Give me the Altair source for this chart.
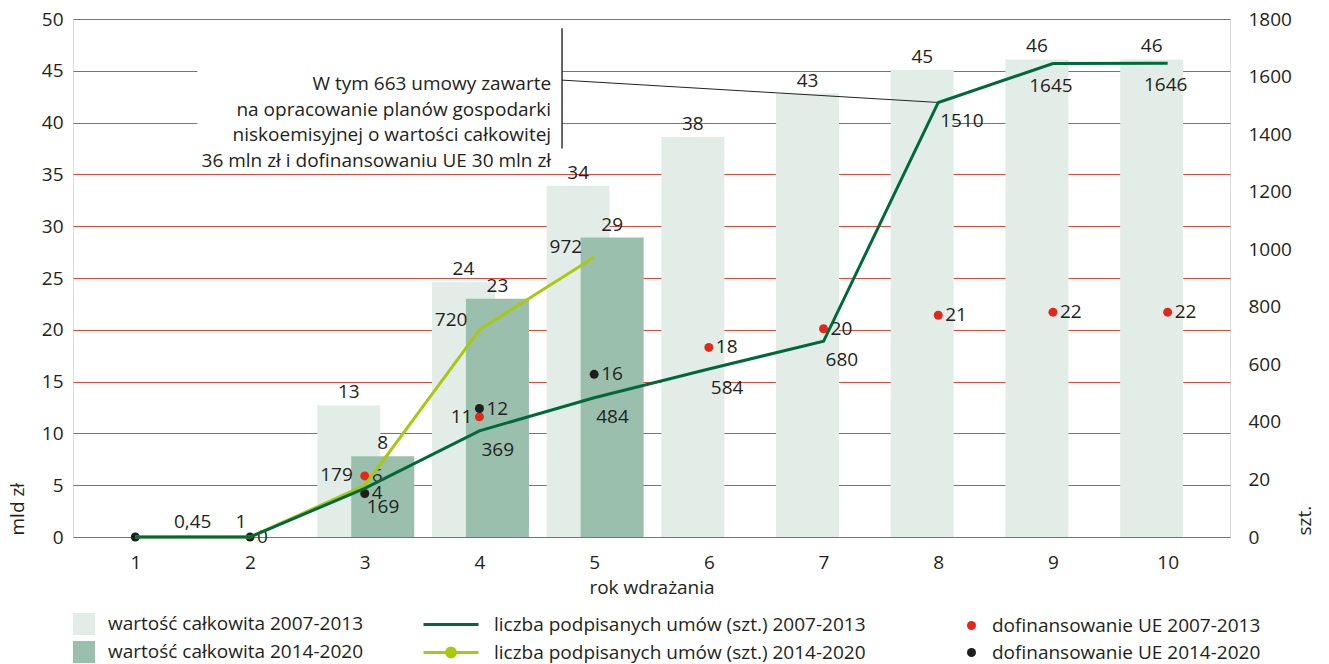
import altair as alt
import pandas as pd

FONT = "Open Sans"
FS = 19
TXT = "#231f20"

# ---------------- data ----------------
pos = [1, 2, 3, 4, 5, 6, 7, 8, 9, 10]

# total value 2007-2013 (mld zł)
val_0713_pos = [3, 4, 5, 6, 7, 8, 9, 10]
val_0713 = [12.7, 24.6, 33.9, 38.6, 42.8, 45.1, 46.1, 46.1]
val_0713_lab = ["13", "24", "34", "38", "43", "45", "46", "46"]

# total value 2014-2020 (mld zł)
val_1420_pos = [3, 4, 5]
val_1420 = [7.8, 23.0, 28.9]
val_1420_lab = ["8", "23", "29"]

# EU co-financing 2007-2013 (mld zł)
ue_0713_pos = [3, 4, 6, 7, 8, 9, 10]
ue_0713 = [5.9, 11.6, 18.3, 20.1, 21.4, 21.7, 21.7]
ue_0713_lab = ["6", "11", "18", "20", "21", "22", "22"]

# EU co-financing 2014-2020 (mld zł)
ue_1420_pos = [1, 2, 3, 4, 5]
ue_1420 = [0, 0, 4.2, 12.4, 15.7]
ue_1420_lab = ["", "0", "4", "12", "16"]

# number of signed contracts (szt.)
umowy_0713 = [0, 0, 169, 369, 484, 584, 680, 1510, 1645, 1646]
umowy_1420_pos = [1, 2, 3, 4, 5]
umowy_1420 = [0, 0, 179, 720, 972]
umowy_1420_lab = ["", "", "179", "720", "972"]

# small extra labels near the start
misc_pos = [1.5, 1.92]
misc_val = [0, 0]
misc_lab = ["0,45", "1"]

S_BAR = ["wartość całkowita 2007-2013", "wartość całkowita 2014-2020"]
S_LINE = ["liczba podpisanych umów (szt.) 2007-2013", "liczba podpisanych umów (szt.) 2014-2020"]
S_DOT = ["dofinansowanie UE 2007-2013", "dofinansowanie UE 2014-2020"]

C_LIGHT, C_DARK = "#e3ede8", "#9bbfad"
C_LINE1, C_LINE2 = "#00693a", "#a9c80f"
C_RED, C_BLACK = "#e3281b", "#1e1e1e"
C_GRID = "#ea4636"

# annotation
note_text = ("W tym 663 umowy zawarte\nna opracowanie planów gospodarki\n"
             "niskoemisyjnej o wartości całkowitej\n36 mln zł i dofinansowaniu UE 30 mln zł")
note_box = {"x": 1.54, "x2": 4.72, "y": 37.6, "y2": 48.6}
note_vline = {"x": 4.72, "y": 37.5, "y2": 49.1}
note_conn = {"x": [4.72, 8], "y": [44.1, 1510 / 1800 * 50]}
note_anchor = {"x": 4.625, "y": 43.7}

# ---------------- frames ----------------
df_l = pd.DataFrame({"pos": val_0713_pos, "v": val_0713, "lab": val_0713_lab, "s": S_BAR[0]})
df_d = pd.DataFrame({"pos": val_1420_pos, "v": val_1420, "lab": val_1420_lab, "s": S_BAR[1]})
df_r = pd.DataFrame({"pos": ue_0713_pos, "v": ue_0713, "lab": ue_0713_lab, "s": S_DOT[0]})
df_k = pd.DataFrame({"pos": ue_1420_pos, "v": ue_1420, "lab": ue_1420_lab, "s": S_DOT[1]})
df_dots = pd.concat([df_r, df_k])
df_u1 = pd.DataFrame({"pos": pos, "v": umowy_0713, "lab": [str(v) if v else "" for v in umowy_0713], "s": S_LINE[0]})
df_u2 = pd.DataFrame({"pos": umowy_1420_pos, "v": umowy_1420, "lab": umowy_1420_lab, "s": S_LINE[1]})
df_misc = pd.DataFrame({"pos": misc_pos, "v": misc_val, "lab": misc_lab})

xsc = alt.Scale(domain=[0.5, 10.5], nice=False, zero=False)
ysc_l = alt.Scale(domain=[0, 50], nice=False)
ysc_r = alt.Scale(domain=[0, 1800], nice=False)

x_axis = alt.Axis(values=pos, format="d", grid=False, domain=False, ticks=False,
                  labelPadding=16, labelFontSize=FS, labelFont=FONT, labelColor=TXT,
                  title="rok wdrażania", titleFontSize=FS, titleFont=FONT, titleColor=TXT,
                  titleFontWeight="normal", titleY=50, titleBaseline="middle")
y_axis_l = alt.Axis(values=list(range(0, 51, 5)), grid=True, gridColor=C_GRID, gridWidth=1.2,
                    domain=False, ticks=False, labelPadding=10, labelFontSize=FS, labelFont=FONT,
                    labelColor=TXT, title="mld zł", titleFontSize=FS, titleFont=FONT,
                    titleColor=TXT, titleFontWeight="normal", titleAngle=270, titleX=-56,
                    titleY=516, titleAlign="left", titleBaseline="middle")
y_axis_r = alt.Axis(values=list(range(0, 1801, 200)), orient="right", grid=False, domain=False,
                    ticks=False, labelPadding=18, labelFontSize=FS, labelFont=FONT, labelColor=TXT,
                    labelExpr="datum.value == 200 ? '20' : datum.label", format="d",
                    title="szt.", titleFontSize=FS, titleFont=FONT, titleColor=TXT,
                    titleFontWeight="normal", titleAngle=270, titleX=74, titleY=516,
                    titleAlign="left", titleBaseline="middle")


def Xq(f="pos"):
    return alt.X(f"{f}:Q", scale=xsc, axis=x_axis)


def Yl(f="v"):
    return alt.Y(f"{f}:Q", scale=ysc_l, axis=y_axis_l)


def Yr(f="v"):
    return alt.Y(f"{f}:Q", scale=ysc_r, axis=y_axis_r)


def leg(x, y, **kw):
    base = dict(title=None, orient="none", legendX=x, legendY=y, padding=0,
                labelFontSize=FS, labelFont=FONT, labelColor=TXT, labelLimit=500)
    base.update(kw)
    return alt.Legend(**base)


txt = dict(font=FONT, fontSize=FS, color=TXT, baseline="middle")

# ---------------- left-scale layers ----------------
bar_fill = alt.Fill("s:N", scale=alt.Scale(domain=S_BAR, range=[C_LIGHT, C_DARK]),
                    legend=leg(0, 594, symbolType="square", symbolSize=484, symbolStrokeWidth=0,
                               labelOffset=13, rowPadding=6, symbolOpacity=1))

bars_l = alt.Chart(df_l).mark_bar(width=63, xOffset=-16).encode(x=Xq(), y=Yl(), fill=bar_fill)
bars_d = alt.Chart(df_d).mark_bar(width=63, xOffset=18).encode(x=Xq(), y=Yl(), fill=bar_fill)

lab_l = alt.Chart(df_l).mark_text(dx=-16, dy=-13, **txt).encode(x=Xq(), y=Yl(), text="lab:N")
lab_d = alt.Chart(df_d).mark_text(dx=18, dy=-13, **txt).encode(x=Xq(), y=Yl(), text="lab:N")
lab_misc = alt.Chart(df_misc).mark_text(dy=-15, **txt).encode(x=Xq(), y=Yl(), text="lab:N")

box = alt.Chart(pd.DataFrame([note_box])).mark_rect(color="white").encode(
    x=Xq("x"), x2="x2:Q", y=Yl("y"), y2="y2:Q")
vline = alt.Chart(pd.DataFrame([note_vline])).mark_rule(color="#333333", strokeWidth=1.5).encode(
    x=Xq("x"), y=Yl("y"), y2="y2:Q")
conn = alt.Chart(pd.DataFrame(note_conn)).mark_line(color="#222222", strokeWidth=1).encode(
    x=Xq("x"), y=Yl("y"))
note = alt.Chart(pd.DataFrame([dict(note_anchor, t=note_text)])).mark_text(
    align="right", lineBreak="\n", lineHeight=25.5, **txt).encode(
    x=Xq("x"), y=Yl("y"), text="t:N")

dot_color = alt.Color("s:N", scale=alt.Scale(domain=S_DOT, range=[C_RED, C_BLACK]),
                      legend=leg(889, 597, symbolType="circle", symbolSize=81, symbolStrokeWidth=0,
                                 labelOffset=11, rowPadding=7, symbolOpacity=1))
dots = alt.Chart(df_dots).mark_circle(size=81, opacity=1).encode(x=Xq(), y=Yl(), color=dot_color)

lab_dots_r = alt.Chart(df_dots).transform_filter(
    "datum.s != '%s' || datum.pos != 4" % S_DOT[0]).mark_text(align="left", dx=7, **txt).encode(
    x=Xq(), y=Yl(), text="lab:N")
lab_dots_l = alt.Chart(df_dots).transform_filter(
    "datum.s == '%s' && datum.pos == 4" % S_DOT[0]).mark_text(align="right", dx=-7, **txt).encode(
    x=Xq(), y=Yl(), text="lab:N")

left = alt.layer(bars_l, bars_d, lab_l, lab_d, lab_misc, box, vline, conn, note,
                 dots, lab_dots_r, lab_dots_l)

# ---------------- right-scale layers ----------------
dot_path = "M-1,0H1M0.16,0A0.16,0.16,0,1,1,-0.16,0A0.16,0.16,0,1,1,0.16,0Z"
stroke1 = alt.Stroke("s:N", scale=alt.Scale(domain=[S_LINE[0]], range=[C_LINE1]),
                     legend=leg(349, 576.5, symbolType="stroke", symbolSize=3025,
                                symbolStrokeWidth=3, labelOffset=14))
stroke2 = alt.Stroke("s:N", scale=alt.Scale(domain=[S_LINE[1]], range=[C_LINE2]),
                     legend=leg(349, 604.5, symbolType=dot_path, symbolSize=3025,
                                symbolStrokeWidth=3, labelOffset=14, symbolFillColor=C_LINE2))
line2 = alt.Chart(df_u2).mark_line(strokeWidth=3).encode(x=Xq(), y=Yr(), stroke=stroke2)
line1 = alt.Chart(df_u1).mark_line(strokeWidth=3).encode(x=Xq(), y=Yr(), stroke=stroke1)

lab_u1a = alt.Chart(df_u1).transform_filter("datum.pos >= 3 && datum.pos <= 8").mark_text(
    align="left", dx=2, dy=19, **txt).encode(x=Xq(), y=Yr(), text="lab:N")
lab_u1b = alt.Chart(df_u1).transform_filter("datum.pos >= 9").mark_text(
    dx=-2, dy=22, **txt).encode(x=Xq(), y=Yr(), text="lab:N")
lab_u2 = alt.Chart(df_u2).mark_text(align="right", dx=-12, dy=-10, **txt).encode(
    x=Xq(), y=Yr(), text="lab:N")

right = alt.layer(line2, line1, lab_u1a, lab_u1b, lab_u2).resolve_scale(stroke="independent")

chart = alt.layer(left, right).resolve_scale(y="independent").properties(
    width=1157, height=518, padding={"left": 0, "top": 2, "right": 0, "bottom": 0}
).configure_view(stroke=None).configure(font=FONT)

chart.save("out.html", embed_options={"renderer": "svg", "actions": False})
